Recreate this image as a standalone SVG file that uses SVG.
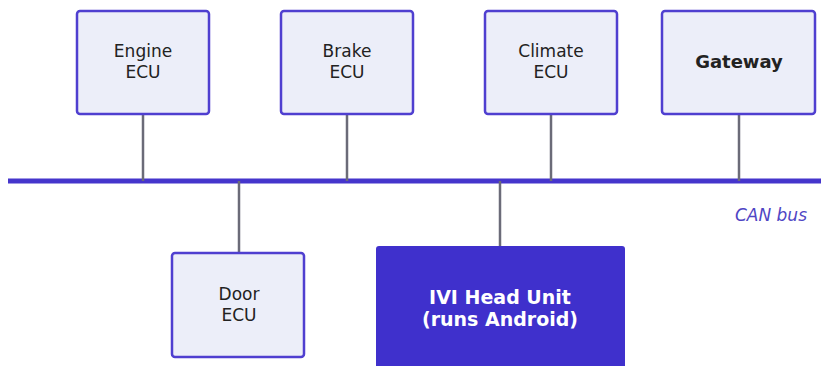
<svg xmlns="http://www.w3.org/2000/svg" width="821" height="366" viewBox="0 0 821 366">
<style>
.box{fill:#eceef9;stroke:#4f3fd0;stroke-width:2.5}
.lbl{font-family:"DejaVu Sans",sans-serif;font-size:17px;fill:#222;text-anchor:middle}
.b{font-weight:bold}
.conn{stroke:#6b6b78;stroke-width:2.5;fill:none}
.bus{stroke:#4535cc;stroke-width:5}
</style>
<rect width="821" height="366" fill="#ffffff"/>
<g id="connectors">
<line class="bus" x1="8" y1="181" x2="821" y2="181"/>
<line class="conn" x1="143" y1="114" x2="143" y2="181"/>
<line class="conn" x1="347" y1="114" x2="347" y2="181"/>
<line class="conn" x1="551" y1="114" x2="551" y2="181"/>
<line class="conn" x1="739" y1="114" x2="739" y2="181"/>
<line class="conn" x1="239" y1="181" x2="239" y2="253"/>
<line class="conn" x1="500" y1="181" x2="500" y2="246"/>
</g>
<g id="engine"><rect class="box" x="77" y="11" width="132" height="103" rx="3"/><text class="lbl" x="143" y="57">Engine</text><text class="lbl" x="143" y="78">ECU</text></g>
<g id="brake"><rect class="box" x="281" y="11" width="132" height="103" rx="3"/><text class="lbl" x="347" y="57">Brake</text><text class="lbl" x="347" y="78">ECU</text></g>
<g id="climate"><rect class="box" x="485" y="11" width="132" height="103" rx="3"/><text class="lbl" x="551" y="57">Climate</text><text class="lbl" x="551" y="78">ECU</text></g>
<g id="gateway"><rect class="box" x="662" y="11" width="153" height="103" rx="3"/><text class="lbl b" x="739" y="68" style="font-size:18px">Gateway</text></g>
<g id="door"><rect class="box" x="172" y="253" width="132" height="104" rx="3"/><text class="lbl" x="239" y="300">Door</text><text class="lbl" x="239" y="321">ECU</text></g>
<g id="ivi"><rect x="376" y="246" width="249" height="130" rx="3" fill="#3f30cc"/><text class="lbl b" x="500" y="304" style="fill:#fff;font-size:19px">IVI Head Unit</text><text class="lbl b" x="500" y="326" style="fill:#fff;font-size:19px">(runs Android)</text></g>
<g id="canbus-label"><text x="807" y="221" font-family="DejaVu Sans, sans-serif" font-size="17" font-style="italic" fill="#4f45c4" text-anchor="end">CAN bus</text></g>
</svg>
